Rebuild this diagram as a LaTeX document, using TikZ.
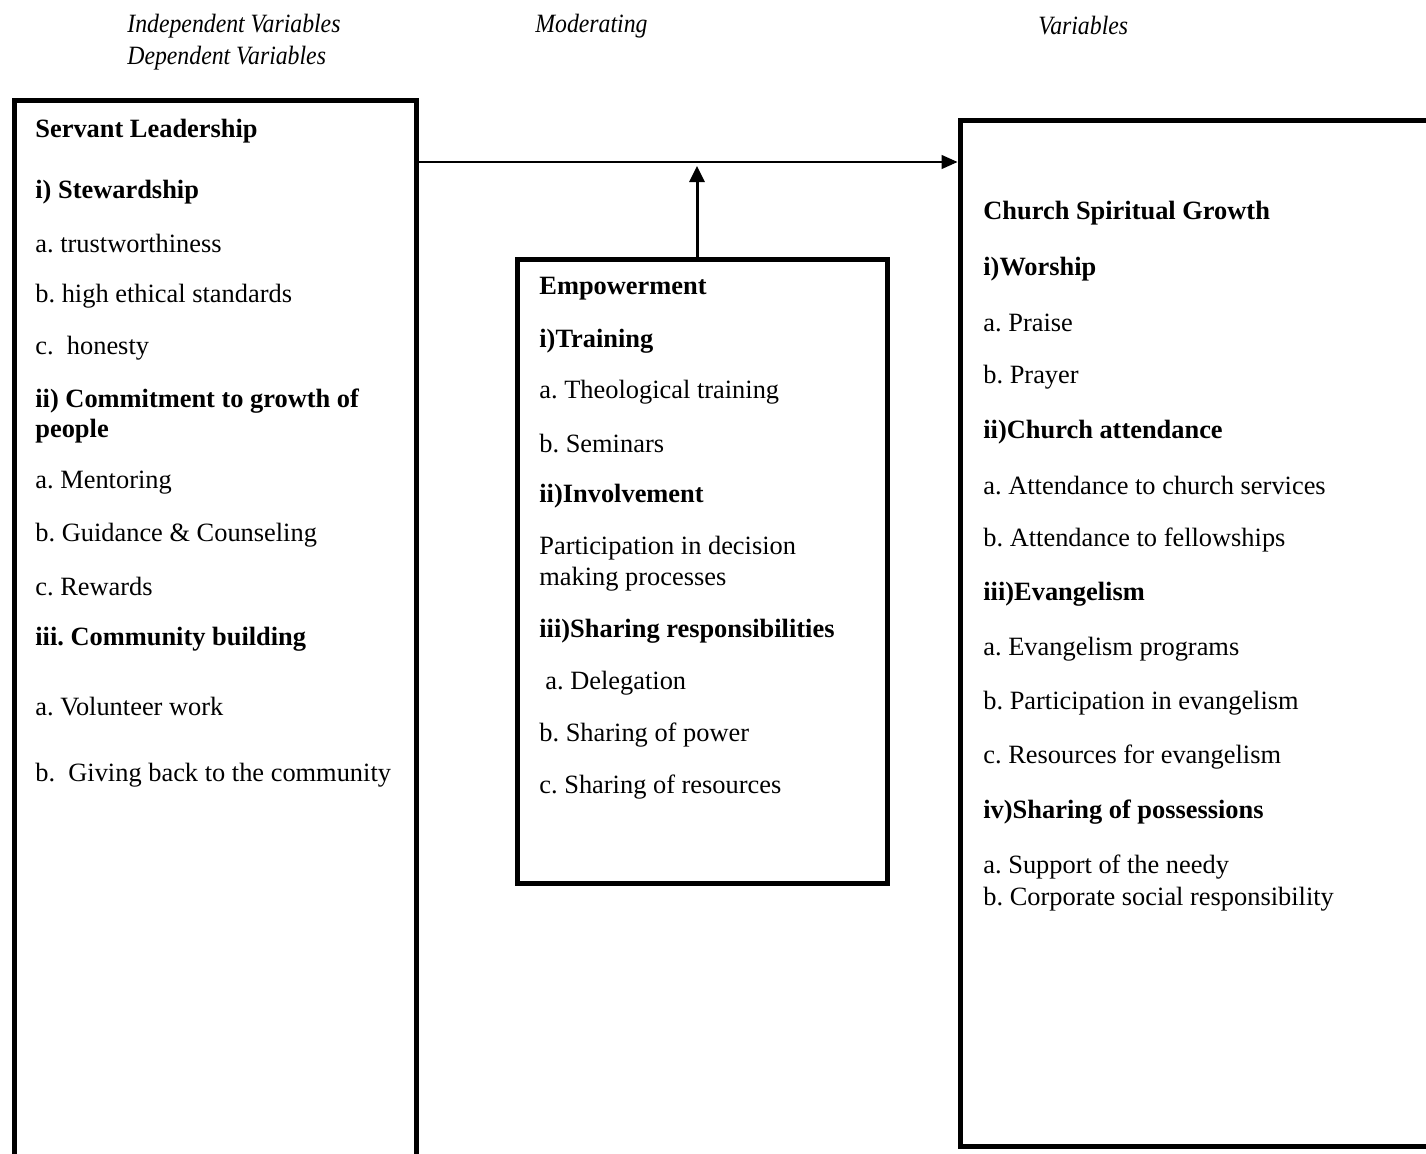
\documentclass[tikz,border=0pt]{standalone}
\usepackage{fontspec}
\setmainfont{Liberation Serif}
\usetikzlibrary{arrows.meta}
\frenchspacing
\begin{document}
\begin{tikzpicture}[x=0.5pt,y=-0.5pt,
 box/.style={draw, line width=2.5pt, inner sep=0pt},
 txt/.style={anchor=west, inner sep=0pt, yshift=-1pt, font=\fontsize{13.2}{16}\selectfont},
 hd/.style={txt, font=\fontsize{13.2}{16}\selectfont\bfseries},
 lab/.style={anchor=west, inner sep=0pt, xscale=0.9, transform shape, font=\fontsize{13.2}{16}\selectfont\itshape}]
\useasboundingbox (0,0) rectangle (1426,1153);
\clip (0,0) rectangle (1426,1153);
% top labels
\node[lab] (t1) at (127,26) {Independent Variables};
\node[lab] (t2) at (535,26) {Moderating};
\node[lab] (t3) at (1038,26) {Variables};
\node[lab] (t4) at (127,58) {Dependent Variables};
% boxes
\node[box, minimum width=201pt, minimum height=535pt] (lbox) at (215,635) {};
\node[box, minimum width=185pt, minimum height=312pt] (mbox) at (702,571) {};
\node[box, minimum width=245pt, minimum height=513pt] (rbox) at (1205,633) {};
% left box text
\node[hd] (l1) at (35,129) {Servant Leadership};
\node[hd] (l2) at (35,190) {i) Stewardship};
\node[txt] (l3) at (35,242) {a. trustworthiness};
\node[txt] (l4) at (35,294) {b. high ethical standards};
\node[txt] (l5) at (35,346) {c.\ \ honesty};
\node[hd] (l6) at (35,399) {ii) Commitment to growth of};
\node[hd] (l7) at (35,429) {people};
\node[txt] (l8) at (35,481) {a. Mentoring};
\node[txt] (l9) at (35,533) {b. Guidance \& Counseling};
\node[txt] (l10) at (35,585) {c. Rewards};
\node[hd] (l11) at (35,637) {iii. Community building};
\node[txt] (l12) at (35,705) {a. Volunteer work};
\node[txt] (l13) at (35,773) {b.\ \ Giving back to the community};
% middle box text
\node[hd] (m1) at (539,287) {Empowerment};
\node[hd] (m2) at (539,339) {i)Training};
\node[txt] (m3) at (539,390) {a. Theological training};
\node[txt] (m4) at (539,442) {b. Seminars};
\node[hd] (m5) at (539,494) {ii)Involvement};
\node[txt] (m6) at (539,546) {Participation in decision};
\node[txt] (m7) at (539,577) {making processes};
\node[hd] (m8) at (539,629) {iii)Sharing responsibilities};
\node[txt] (m9) at (545,681) {a. Delegation};
\node[txt] (m10) at (539,733) {b. Sharing of power};
\node[txt] (m11) at (539,785) {c. Sharing of resources};
% right box text
\node[hd] (r1) at (983,211) {Church Spiritual Growth};
\node[hd] (r2) at (983,267) {i)Worship};
\node[txt] (r3) at (983,321) {a. Praise};
\node[txt] (r4) at (983,375) {b. Prayer};
\node[hd] (r5) at (983,430) {ii)Church attendance};
\node[txt] (r6) at (983,484) {a. Attendance to church services};
\node[txt] (r7) at (983,538) {b. Attendance to fellowships};
\node[hd] (r8) at (983,592) {iii)Evangelism};
\node[txt] (r9) at (983,647) {a. Evangelism programs};
\node[txt] (r10) at (983,701) {b. Participation in evangelism};
\node[txt] (r11) at (983,755) {c. Resources for evangelism};
\node[hd] (r12) at (983,810) {iv)Sharing of possessions};
\node[txt] (r13) at (983,865) {a. Support of the needy};
\node[txt] (r14) at (983,897) {b. Corporate social responsibility};
% connectors
\coordinate (hy) at (0,162);
\coordinate (vt) at (697,166);
\draw[line width=0.7pt, -{Triangle[length=8pt,width=7pt]}] (lbox.east |- hy) -- (rbox.west |- hy);
\draw[line width=1.5pt, -{Triangle[length=8pt,width=7.5pt]}] (mbox.north -| vt) -- (vt);
\end{tikzpicture}
\end{document}
